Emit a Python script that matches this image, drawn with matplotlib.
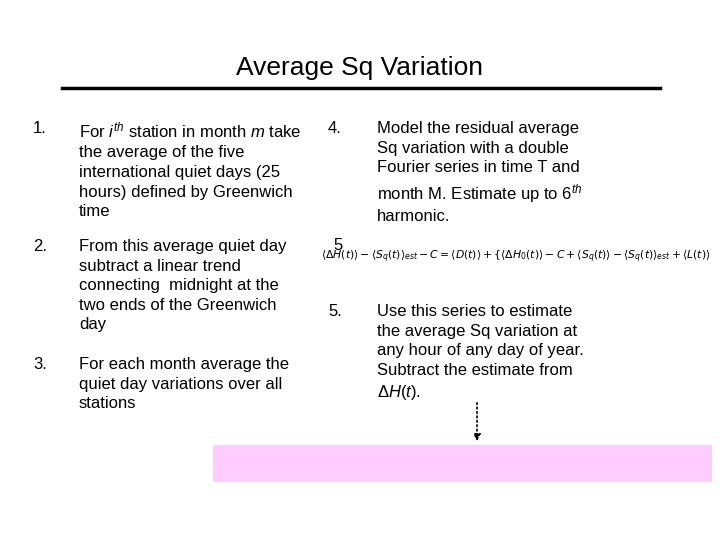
import matplotlib
matplotlib.use("Agg")
import matplotlib.pyplot as plt
from matplotlib.patches import Rectangle

plt.rcParams["mathtext.fontset"] = "custom"
plt.rcParams["mathtext.rm"] = "Liberation Sans"
plt.rcParams["mathtext.it"] = "Liberation Sans:italic"
plt.rcParams["mathtext.bf"] = "Liberation Sans:bold"

title = "Average Sq Variation"
left_nums = ["1.", "2.", "3."]
left_texts = [
    "For $i^{th}$ station in month $m$ take\nthe average of the five\ninternational quiet days (25\nhours) defined by Greenwich\ntime",
    "From this average quiet day\nsubtract a linear trend\nconnecting  midnight at the\ntwo ends of the Greenwich\nday",
    "For each month average the\nquiet day variations over all\nstations",
]
left_y = [121, 239, 357]
right_nums = ["4.", "5."]
right_texts = [
    "Model the residual average\nSq variation with a double\nFourier series in time T and\nmonth M. Estimate up to 6$^{th}$\nharmonic.",
    "Use this series to estimate\nthe average Sq variation at\nany hour of any day of year.\nSubtract the estimate from\n$\\Delta H(t)$.",
]
right_y = [121, 304]
equation = (r"$\langle\Delta H(t)\rangle-\langle S_q(t)\rangle_{est}-C=\langle D(t)\rangle+"
            r"\{\langle\Delta H_0(t)\rangle-C+\langle S_q(t)\rangle-\langle S_q(t)\rangle_{est}+\langle L(t)\rangle$")

W, H = 720, 540
fig = plt.figure(figsize=(7.2, 5.4), dpi=100)
ax = fig.add_axes([0, 0, 1, 1])
ax.set_xlim(0, W); ax.set_ylim(H, 0); ax.axis("off")

ax.text(360, 68, title, ha="center", va="center", fontsize=19, family="Liberation Sans")
ax.plot([62, 660], [88, 88], color="black", lw=2.5)

fs = 12
for n, t, y in zip(left_nums, left_texts, left_y):
    ax.text(33, y, n, ha="left", va="top", fontsize=fs, family="Liberation Sans")
    ax.text(79, y, t, ha="left", va="top", fontsize=fs, family="Liberation Sans", linespacing=1.38)
for n, t, y in zip(right_nums, right_texts, right_y):
    ax.text(328, y, n, ha="left", va="top", fontsize=fs, family="Liberation Sans")
    ax.text(377, y, t, ha="left", va="top", fontsize=fs, family="Liberation Sans", linespacing=1.38)

ax.text(321, 257, equation, ha="left", va="center", fontsize=7.8, math_fontfamily="dejavusans")
ax.text(333, 246, "5", ha="left", va="center", fontsize=fs, family="Liberation Sans")

ax.annotate("", xy=(477, 444), xytext=(477, 400),
            arrowprops=dict(arrowstyle="-|>", ls=":", lw=1.2, color="black"))
ax.add_patch(Rectangle((213, 445), 499, 37, facecolor="#ffccff", edgecolor="none"))

fig.savefig("out.png", dpi=100)
